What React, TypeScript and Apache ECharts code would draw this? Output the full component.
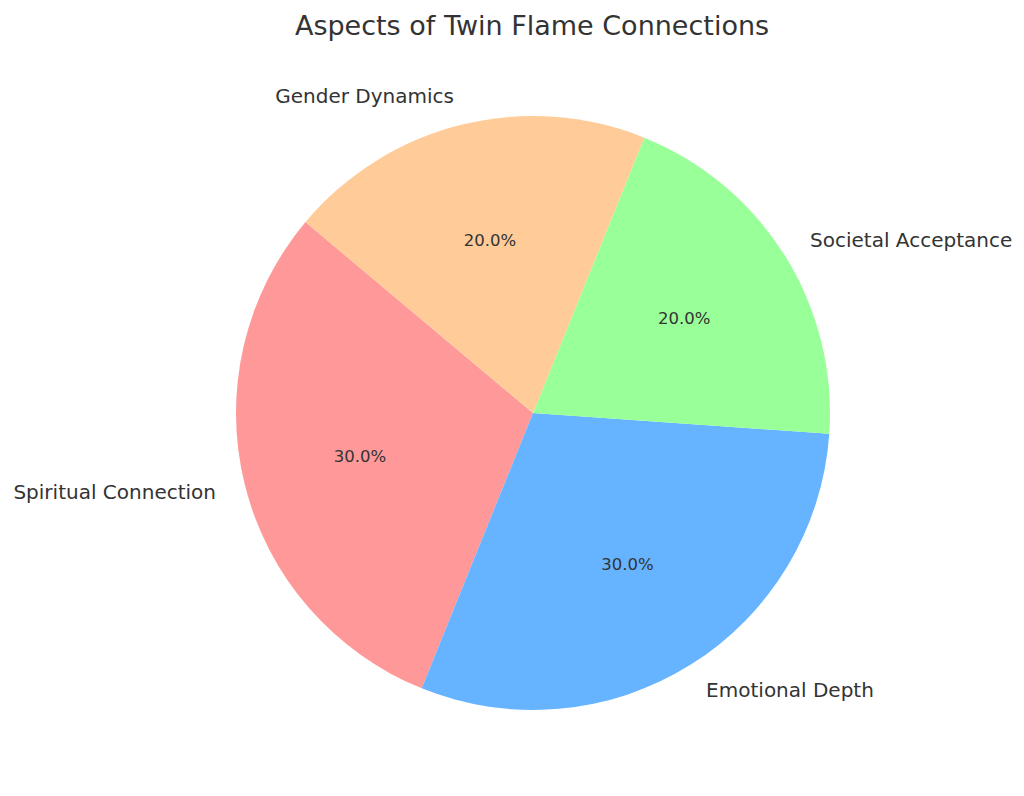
import React, { useEffect, useRef } from 'react';
import * as echarts from 'echarts';

const categories = ['Spiritual Connection', 'Emotional Depth', 'Societal Acceptance', 'Gender Dynamics'];
const shares = [30, 30, 20, 20];
const colors = ['#ff9999', '#66b3ff', '#99ff99', '#ffcc99'];

const FONT = '"DejaVu Sans", sans-serif';
const R = 297;

export default function App() {
    const chartRef = useRef<HTMLDivElement>(null);

    useEffect(() => {
        const chart = echarts.init(chartRef.current!, null, { renderer: 'svg' });
        const data = categories.map((name, i) => ({ name, value: shares[i] }));
        const total = shares.reduce((a, b) => a + b, 0);

        chart.setOption({
            animation: false,
            color: colors,
            title: {
                text: 'Aspects of Twin Flame Connections',
                left: 527,
                top: 7,
                textAlign: 'center',
                textStyle: {
                    color: '#333333',
                    fontFamily: FONT,
                    fontSize: 27,
                    fontWeight: 'normal',
                },
            },
            series: [
                {
                    type: 'pie',
                    center: [533, 413],
                    radius: [0, R],
                    startAngle: 140,
                    clockwise: false,
                    avoidLabelOverlap: false,
                    silent: true,
                    label: {
                        show: true,
                        position: 'outside',
                        color: '#333333',
                        fontFamily: FONT,
                        fontSize: 20,
                        distanceToLabelLine: 0,
                    },
                    labelLine: {
                        show: false,
                        length: R * 0.1,
                        length2: 0,
                    },
                    data,
                },
                {
                    // transparent copy, only carries the percentage labels
                    type: 'pie',
                    center: [533, 413],
                    radius: [0, R * 1.18],
                    startAngle: 140,
                    clockwise: false,
                    avoidLabelOverlap: false,
                    silent: true,
                    itemStyle: { color: 'rgba(0,0,0,0)' },
                    label: {
                        show: true,
                        position: 'inside',
                        color: '#333333',
                        fontFamily: FONT,
                        fontSize: 16.5,
                        formatter: (p: any) => ((p.value / total) * 100).toFixed(1) + '%',
                    },
                    labelLine: { show: false },
                    data,
                },
            ],
        });

        return () => {
            chart.dispose();
        };
    }, []);

    return (
        <div
            ref={chartRef}
            style={{ position: 'absolute', left: 0, top: 0, width: 1024, height: 796, background: '#ffffff' }}
        />
    );
}
